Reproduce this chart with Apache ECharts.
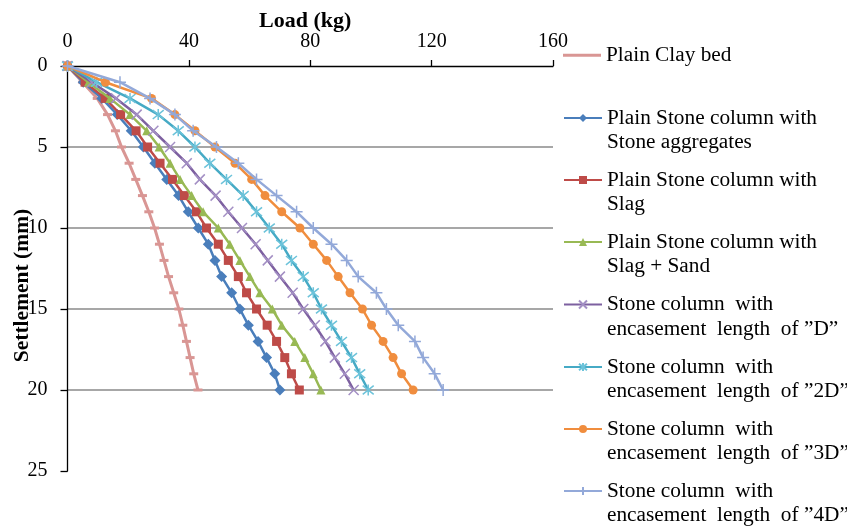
<!DOCTYPE html>
<html>
<head>
<meta charset="utf-8">
<script src="https://cdn.jsdelivr.net/npm/echarts@6/dist/echarts.min.js"></script>
<style>
html,body{margin:0;padding:0;background:#fff;}
#chart{width:847px;height:527px;}
</style>
</head>
<body>
<div id="chart"></div>
<script>
// ---- data ----
const settlement = [0,1,2,3,4,5,6,7,8,9,10,11,12,13,14,15,16,17,18,19,20];
const clayLoad   = [0,5,9.8,13.2,15.8,17.8,20.3,22.5,24.7,26.8,28.7,30.3,31.8,33.3,35,36.7,38,39.2,40.4,41.6,43];
const stoneAgg   = [0,5.2,11.3,16.4,21,25,28.8,32.7,36.6,39.8,43.1,46.4,48.6,50.8,54.1,56.8,59.6,62.8,65.6,68.3,70];
const slag       = [0,5.8,12.4,17.5,22.6,26.4,30.5,34.6,38.5,42.5,45.8,49.7,53,56.3,59,62.3,65.8,68.9,71.6,73.8,76.4];
const slagSand   = [0,6.9,14,20.6,26.1,30.2,33.8,37.1,40.9,44.7,49.7,53.5,56.8,60.1,63.4,67.5,70.6,74.9,78.2,81,83.5];
const encD       = [0,8,16,22.8,28.3,33.8,39.3,43.6,48.8,53,57.5,62,66,70,74.2,77.7,81.5,85,88.1,91.4,94.3];
const enc2D      = [0,9.6,20.6,29.9,36.5,42,46.9,52.4,57.9,62.3,66.5,70.6,73.8,77.7,81,83.7,87,90.3,93.6,96.3,99.1];
const enc3D      = [0,12.5,27.7,35.4,42,48.6,55.2,60.7,65.1,70.6,76.6,81,85.4,89.2,93.1,97.2,100.2,104,107.3,110.1,113.9];
const enc4D      = [0,17.3,27.2,35.4,41.4,49.1,56.3,62.3,68.9,75.5,81,87,92,95.8,101.8,105.1,109,114.5,117.2,121,123.8];

const seriesNames = [
  'Plain Clay bed',
  'Plain Stone column with\nStone aggregates',
  'Plain Stone column with\nSlag',
  'Plain Stone column with\nSlag + Sand',
  'Stone column  with\nencasement  length  of \u201DD\u201D',
  'Stone column  with\nencasement  length  of \u201D2D\u201D',
  'Stone column  with\nencasement  length  of \u201D3D\u201D',
  'Stone column  with\nencasement  length  of \u201D4D\u201D'
];
const xTicks = [0, 40, 80, 120, 160];
const yTicks = [0, 5, 10, 15, 20, 25];

// ---- styling ----
const FONT = "'Liberation Serif', 'Times New Roman', serif";
const loads = [clayLoad, stoneAgg, slag, slagSand, encD, enc2D, enc3D, enc4D];
const lineColors = ['#D99694', '#4A7EBB', '#BE4B48', '#98B954', '#7D60A0', '#46AAC5', '#F08D3E', '#93A9D9'];
const markColors = ['#D99694', '#4A7EBB', '#BE4B48', '#98B954', '#A38FC4', '#6CC3DA', '#F08D3E', '#93A9D9'];
const symbols = [
  'rect', 'diamond', 'rect', 'triangle',
  'path://M0,0L10,10M10,0L0,10',
  'path://M1,1L9,9M9,1L1,9M5,0L5,10',
  'circle',
  'path://M5,0L5,10M0,5L10,5'
];
const symbolSizes = [[9, 3], 11, 9, 9, 10, 11, 9, 12];
const strokeOnly = [false, false, false, false, true, true, false, true];

const series = loads.map((arr, i) => ({
  name: seriesNames[i],
  type: 'line',
  data: arr.map((v, k) => [v, settlement[k]]),
  symbol: symbols[i],
  symbolSize: symbolSizes[i],
  showSymbol: true,
  lineStyle: { color: lineColors[i], width: i === 0 ? 3 : 2.5 },
  itemStyle: strokeOnly[i]
    ? { color: markColors[i], borderColor: markColors[i], borderWidth: 1.5 }
    : { color: markColors[i], borderWidth: 0 },
  emphasis: { disabled: true },
  animation: false,
  z: 2 + i
}));

// legend: one component per entry so the symbol sits beside the first text line
const firstLineY = [55, 118, 180, 242, 304.5, 367, 429, 491];
const legends = seriesNames.map((nm, i) => ({
  left: 563,
  top: i === 0 ? firstLineY[i] - 12 : firstLineY[i] - 36.75,
  orient: 'vertical',
  padding: 0,
  itemGap: 0,
  itemWidth: 38,
  itemHeight: 10,
  selectedMode: false,
  formatter: i === 0 ? '{name}' : '\n{name}',
  data: [i === 0
    ? { name: nm, icon: 'path://M0,0L38,0L38,3L0,3Z' }
    : { name: nm }],
  textStyle: {
    fontFamily: FONT, fontSize: 21.3, color: '#000', lineHeight: 24.5
  }
}));

const chart = echarts.init(document.getElementById('chart'), null, { renderer: 'canvas' });
chart.setOption({
  backgroundColor: '#fff',
  animation: false,
  grid: { left: 67.5, right: 294, top: 66, bottom: 56, containLabel: false, outerBoundsMode: 'none' },
  legend: legends,
  xAxis: {
    type: 'value',
    position: 'top',
    min: xTicks[0], max: xTicks[xTicks.length - 1], interval: 40,
    name: 'Load (kg)',
    nameLocation: 'middle',
    nameGap: 34,
    nameMoveOverlap: false,
    nameTextStyle: { fontFamily: FONT, fontSize: 22, fontWeight: 'bold', color: '#000', padding: [0, 10, 0, 0] },
    axisLine: { show: true, onZero: false, lineStyle: { color: '#000', width: 1.3 } },
    axisTick: { show: true, length: 6, lineStyle: { color: '#000', width: 1.3 } },
    axisLabel: { fontFamily: FONT, fontSize: 20, color: '#000', margin: 14 },
    splitLine: { show: false }
  },
  yAxis: {
    type: 'value',
    inverse: true,
    min: yTicks[0], max: yTicks[yTicks.length - 1], interval: 5,
    name: 'Settlement (mm)',
    nameLocation: 'middle',
    nameRotate: 90,
    nameGap: 34,
    nameMoveOverlap: false,
    nameTextStyle: { fontFamily: FONT, fontSize: 21.5, fontWeight: 'bold', color: '#000', padding: [0, 34, 0, 0] },
    axisLine: { show: true, onZero: false, lineStyle: { color: '#000', width: 1.3 } },
    axisTick: { show: true, length: 7, lineStyle: { color: '#000', width: 1.3 } },
    axisLabel: { fontFamily: FONT, fontSize: 20, color: '#000', margin: 20 },
    splitLine: { show: true, lineStyle: { color: ['rgba(0,0,0,0)', '#8a8a8a', '#8a8a8a', '#8a8a8a', '#8a8a8a', 'rgba(0,0,0,0)'], width: 1.5 } }
  },
  series: series
});
</script>
</body>
</html>
